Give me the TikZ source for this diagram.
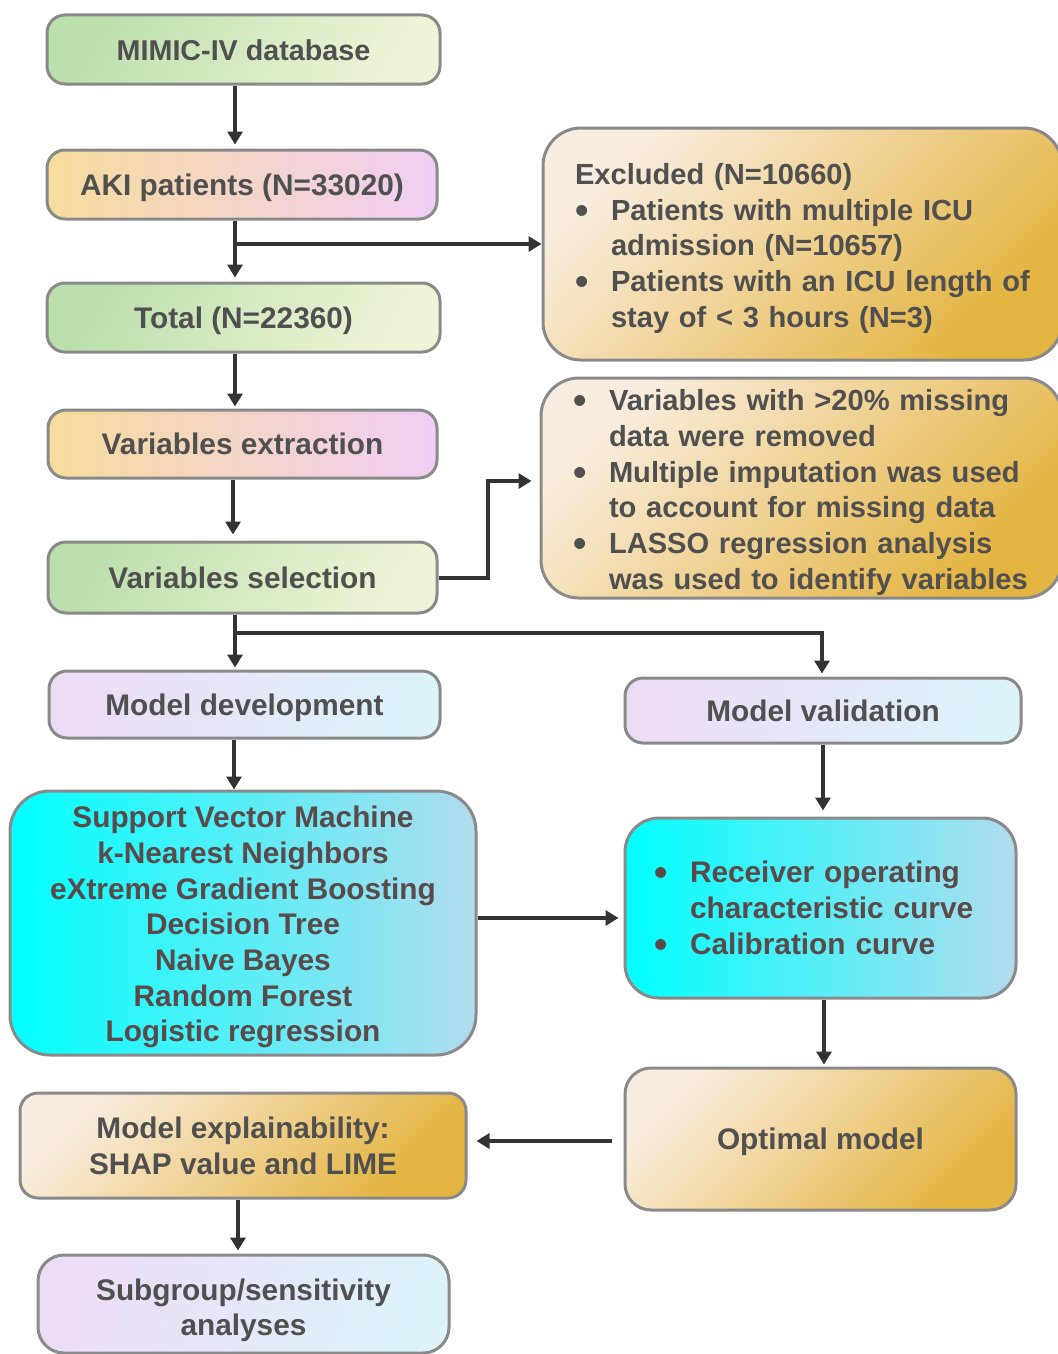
\documentclass[tikz,border=0pt]{standalone}
\usepackage{fontspec}
\setmainfont{Liberation Sans}
\usetikzlibrary{arrows.meta}
\definecolor{txt}{HTML}{505050}
\definecolor{txtc}{HTML}{5A4A4A}
\definecolor{bordc}{HTML}{8A8A8A}
\definecolor{arrc}{HTML}{333333}
\definecolor{gL}{HTML}{BCDFAE}
\definecolor{gR}{HTML}{EEF4D6}
\definecolor{yL}{HTML}{F6DC9C}
\definecolor{yR}{HTML}{F0CEF6}
\definecolor{lL}{HTML}{EDDCF6}
\definecolor{lR}{HTML}{DDF3FA}
\definecolor{oL}{HTML}{F9EDDF}
\definecolor{oM}{HTML}{F2D9AA}
\definecolor{oR}{HTML}{E4B440}
\definecolor{cL}{HTML}{00FFFF}
\definecolor{cR}{HTML}{B2DCEE}
\newcommand\bigbul{\raisebox{-3pt}{\fontsize{38}{38}\selectfont\textbullet}}
\newcommand\bl[1]{\mbox{\makebox[36pt][l]{\bigbul}#1}}
\newcommand\il[1]{\mbox{\makebox[36pt][l]{}#1}}
\newcommand\fsz[1]{\fontsize{#1}{35.7}\selectfont}
\newcommand\topst[1]{\rule{0pt}{#1}}
\begin{document}
\begin{tikzpicture}[x=1pt,y=-1pt,
  every node/.style={font=\fsz{29.8}\bfseries, text=txt},
  box/.style={draw=bordc, line width=3pt, rounded corners=18pt, inner sep=0pt, align=center},
  oneline/.style={text height=21.3pt, text depth=0pt},
  greenbox/.style={box, oneline, left color=gL, right color=gR, shading angle=60},
  ypbox/.style={box, oneline, left color=yL, right color=yR, shading angle=90},
  lavbox/.style={box, left color=lL, right color=lR, shading angle=70},
  goldbox/.style={box, left color=oL, middle color=oM, right color=oR, shading angle=45},
  cyanbox/.style={box, left color=cL, right color=cR, shading angle=90, text=txtc},
  arr/.style={draw=arrc, line width=4pt, -{Triangle[width=15pt,length=13pt]}}
]
\useasboundingbox (0,0) rectangle (1057,1354);

\coordinate (colL) at (235,0);

\node[greenbox, font=\fsz{28.7}\bfseries, minimum width=393pt, minimum height=69pt] (mimic) at (243.5,49.5) {MIMIC-IV database};
\node[ypbox, minimum width=390pt, minimum height=69pt] (aki) at (242,184.5) {AKI patients (N=33020)};
\node[greenbox, minimum width=393pt, minimum height=69pt] (total) at (243.5,317.5) {Total (N=22360)};
\node[ypbox, minimum width=389pt, minimum height=68pt] (ext) at (242.5,444) {Variables extraction};
\node[greenbox, minimum width=389pt, minimum height=71pt] (sel) at (242.5,577.5) {Variables selection};
\node[lavbox, oneline, minimum width=391pt, minimum height=67pt] (dev) at (244.5,704.5) {Model development};
\node[lavbox, oneline, minimum width=396pt, minimum height=65pt] (val) at (823,710.5) {Model validation};

\node[goldbox, font=\fsz{29.1}\bfseries, rounded corners=38pt, minimum width=519pt, minimum height=232pt, text width=455pt, align=left] (excl) at (802.5,244)
  {\mbox{\topst{30pt}Excluded (N=10660)}\\
   \bl{Patients with multiple ICU}\\
   \il{admission (N=10657)}\\
   \bl{Patients with an ICU length of}\\
   \il{stay of < 3 hours (N=3)}};

\node[goldbox, font=\fsz{29.1}\bfseries, rounded corners=38pt, minimum width=521pt, minimum height=220pt, text width=457pt, align=left] (varb) at (801.5,488)
  {\bl{\topst{30pt}Variables with >20\% missing}\\
   \il{data were removed}\\
   \bl{Multiple imputation was used}\\
   \il{to account for missing data}\\
   \bl{LASSO regression analysis}\\
   \il{was used to identify variables}};

\node[cyanbox, rounded corners=40pt, minimum width=466pt, minimum height=264pt] (ml) at (243,923)
  {\topst{30pt}Support Vector Machine\\ k-Nearest Neighbors\\ eXtreme Gradient Boosting\\ Decision Tree\\ Naive Bayes\\ Random Forest\\ Logistic regression};

\node[cyanbox, rounded corners=34pt, minimum width=391pt, minimum height=180pt, text width=333pt, align=left] (roc) at (820.5,908)
  {\bl{\topst{24pt}Receiver operating}\\
   \il{characteristic curve}\\
   \bl{Calibration curve}};

\node[goldbox, oneline, rounded corners=26pt, minimum width=391pt, minimum height=142pt] (opt) at (820.5,1139) {Optimal model};
\node[goldbox, rounded corners=18pt, minimum width=446pt, minimum height=105pt] (expl) at (243,1145.5) {Model explainability:\\ SHAP value and LIME};
\node[lavbox, rounded corners=26pt, minimum width=411pt, minimum height=98pt] (sub) at (243.5,1304) {\topst{34pt}Subgroup/sensitivity\\ analyses};

% connectors
\draw[arr, shorten >=4pt] (mimic.south -| colL) -- (aki.north -| colL);
\draw[arr, shorten >=4pt] (aki.south -| colL) -- (total.north -| colL);
\draw[arr] (aki.south -| colL) |- (excl.west);
\draw[arr, shorten >=2pt] (total.south -| colL) -- (ext.north -| colL);
\draw[arr, shorten >=6pt] ([xshift=-2pt]ext.south -| colL) -- ([xshift=-2pt]sel.north -| colL);
\draw[arr, shorten >=8pt] (sel.east) -- ++(49,0) |- ([yshift=7pt]varb.west);
\draw[arr, shorten >=2pt] (sel.south -| colL) -- (dev.north -| colL);
\draw[arr, shorten >=3pt] (sel.south -| colL) -- ++(0,18) -| ([xshift=-1pt]val.north);
\draw[arr] ([xshift=-1pt]dev.south -| colL) -- ([xshift=-1pt]ml.north -| colL);
\draw[arr, shorten >=6pt] (val.south) -- (val.south |- roc.north);
\draw[arr, shorten >=5pt] ([yshift=5pt]ml.east) -- ([yshift=5pt]ml.east -| roc.west);
\draw[arr, shorten >=2pt] ([xshift=3.5pt]roc.south) -- ([xshift=3.5pt]opt.north);
\draw[arr, shorten <=12pt, shorten >=9pt] ([yshift=-2pt]opt.west) -- ([yshift=-2pt]opt.west -| expl.east);
\draw[arr, shorten >=3pt] ([xshift=-5pt]expl.south) -- ([xshift=-5pt]expl.south |- sub.north);
\end{tikzpicture}
\end{document}
